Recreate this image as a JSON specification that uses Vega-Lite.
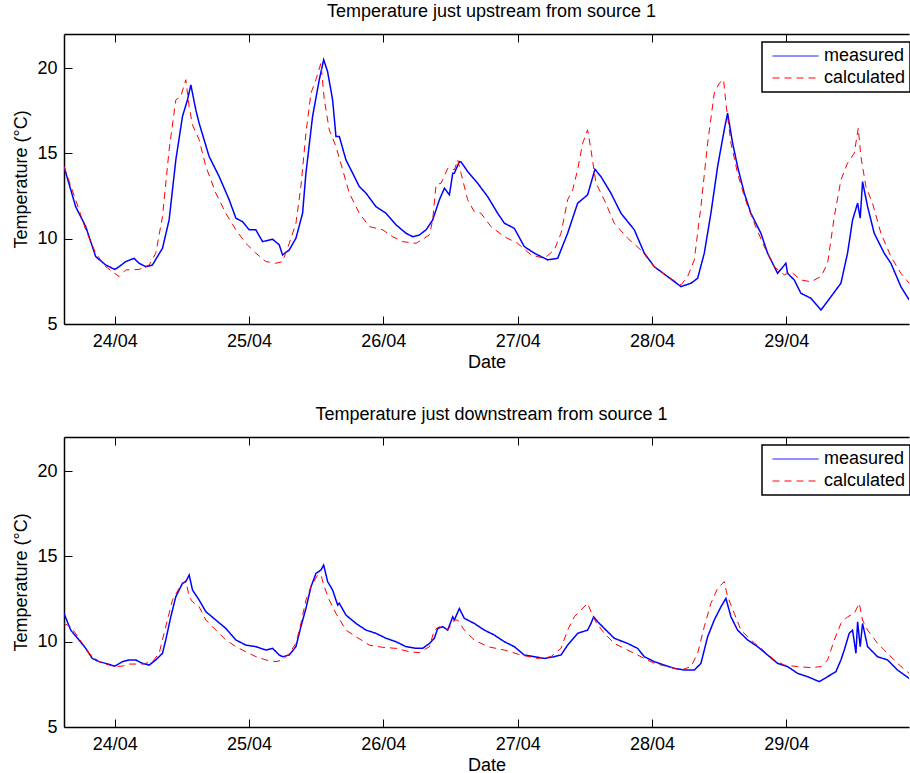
{
  "$schema": "https://vega.github.io/schema/vega-lite/v6.json",
  "background": "white",
  "padding": {"left": 12, "top": 2, "right": 0, "bottom": 0},
  "config": {
    "font": "Liberation Sans",
    "view": {"stroke": null},
    "concat": {"spacing": 34},
    "axis": {"grid": false, "domainColor": "black", "domainWidth": 1.5, "tickColor": "black", "tickWidth": 1, "tickSize": -8,
      "labelFont": "Liberation Sans", "labelFontSize": 18, "labelColor": "black",
      "titleFont": "Liberation Sans", "titleFontSize": 18, "titleFontWeight": "normal", "titleColor": "black"},
    "axisX": {"labelPadding": 16, "titlePadding": 3, "labelFlush": false},
    "axisY": {"labelPadding": 15, "titlePadding": 6, "labelFlush": false},
    "title": {"font": "Liberation Sans", "fontSize": 18, "fontWeight": "normal", "color": "black", "anchor": "middle", "offset": 13, "dx": 5},
    "legend": {"title": null, "orient": "none", "legendX": 698, "legendY": 8, "strokeColor": "black", "strokeWidth": 1.5, "fillColor": "white",
      "padding": 4, "symbolType": "stroke", "symbolSize": 2116, "clipHeight": 20, "symbolOffset": 6, "symbolStrokeWidth": 1,
      "labelOffset": 5, "labelFont": "Liberation Sans", "labelFontSize": 18, "labelColor": "black", "labelLimit": 0, "rowPadding": 2}
  },
  "resolve": {
    "scale": {"color": "independent", "strokeDash": "independent"},
    "legend": {"color": "independent", "strokeDash": "independent"}
  },
  "datasets": {
    "up": [
      {"series":"measured","time":"2012-04-23T14:56","temp":14.23},
      {"series":"measured","time":"2012-04-23T17:01","temp":11.88},
      {"series":"measured","time":"2012-04-23T18:49","temp":10.71},
      {"series":"measured","time":"2012-04-23T20:36","temp":8.95},
      {"series":"measured","time":"2012-04-23T22:23","temp":8.46},
      {"series":"measured","time":"2012-04-24T00:00","temp":8.2},
      {"series":"measured","time":"2012-04-24T00:47","temp":8.36},
      {"series":"measured","time":"2012-04-24T01:58","temp":8.66},
      {"series":"measured","time":"2012-04-24T03:27","temp":8.85},
      {"series":"measured","time":"2012-04-24T04:21","temp":8.56},
      {"series":"measured","time":"2012-04-24T05:33","temp":8.36},
      {"series":"measured","time":"2012-04-24T06:44","temp":8.46},
      {"series":"measured","time":"2012-04-24T08:32","temp":9.44},
      {"series":"measured","time":"2012-04-24T09:43","temp":11.1},
      {"series":"measured","time":"2012-04-24T10:55","temp":14.62},
      {"series":"measured","time":"2012-04-24T12:06","temp":17.16},
      {"series":"measured","time":"2012-04-24T13:00","temp":18.14},
      {"series":"measured","time":"2012-04-24T13:36","temp":19.02},
      {"series":"measured","time":"2012-04-24T14:29","temp":17.56},
      {"series":"measured","time":"2012-04-24T15:05","temp":16.77},
      {"series":"measured","time":"2012-04-24T16:52","temp":14.82},
      {"series":"measured","time":"2012-04-24T18:40","temp":13.64},
      {"series":"measured","time":"2012-04-24T20:27","temp":12.28},
      {"series":"measured","time":"2012-04-24T21:39","temp":11.2},
      {"series":"measured","time":"2012-04-24T22:50","temp":11.0},
      {"series":"measured","time":"2012-04-25T00:02","temp":10.52},
      {"series":"measured","time":"2012-04-25T01:13","temp":10.52},
      {"series":"measured","time":"2012-04-25T02:25","temp":9.83},
      {"series":"measured","time":"2012-04-25T04:12","temp":9.97},
      {"series":"measured","time":"2012-04-25T05:24","temp":9.64},
      {"series":"measured","time":"2012-04-25T05:59","temp":9.05},
      {"series":"measured","time":"2012-04-25T07:11","temp":9.34},
      {"series":"measured","time":"2012-04-25T08:23","temp":10.03},
      {"series":"measured","time":"2012-04-25T09:34","temp":11.49},
      {"series":"measured","time":"2012-04-25T10:10","temp":13.84},
      {"series":"measured","time":"2012-04-25T11:21","temp":17.16},
      {"series":"measured","time":"2012-04-25T12:33","temp":19.32},
      {"series":"measured","time":"2012-04-25T13:20","temp":20.49},
      {"series":"measured","time":"2012-04-25T14:02","temp":19.8},
      {"series":"measured","time":"2012-04-25T14:56","temp":18.14},
      {"series":"measured","time":"2012-04-25T15:32","temp":15.99},
      {"series":"measured","time":"2012-04-25T16:08","temp":15.99},
      {"series":"measured","time":"2012-04-25T17:19","temp":14.62},
      {"series":"measured","time":"2012-04-25T18:31","temp":13.84},
      {"series":"measured","time":"2012-04-25T19:42","temp":13.06},
      {"series":"measured","time":"2012-04-25T20:54","temp":12.67},
      {"series":"measured","time":"2012-04-25T22:41","temp":11.88},
      {"series":"measured","time":"2012-04-26T00:29","temp":11.49},
      {"series":"measured","time":"2012-04-26T02:16","temp":10.81},
      {"series":"measured","time":"2012-04-26T04:03","temp":10.32},
      {"series":"measured","time":"2012-04-26T05:15","temp":10.12},
      {"series":"measured","time":"2012-04-26T06:26","temp":10.22},
      {"series":"measured","time":"2012-04-26T07:38","temp":10.52},
      {"series":"measured","time":"2012-04-26T08:49","temp":11.1},
      {"series":"measured","time":"2012-04-26T10:01","temp":12.28},
      {"series":"measured","time":"2012-04-26T10:55","temp":12.96},
      {"series":"measured","time":"2012-04-26T11:48","temp":12.57},
      {"series":"measured","time":"2012-04-26T12:24","temp":13.84},
      {"series":"measured","time":"2012-04-26T12:41","temp":13.84},
      {"series":"measured","time":"2012-04-26T13:35","temp":14.52},
      {"series":"measured","time":"2012-04-26T13:53","temp":14.5},
      {"series":"measured","time":"2012-04-26T15:04","temp":13.94},
      {"series":"measured","time":"2012-04-26T16:51","temp":13.25},
      {"series":"measured","time":"2012-04-26T18:38","temp":12.47},
      {"series":"measured","time":"2012-04-26T20:26","temp":11.49},
      {"series":"measured","time":"2012-04-26T21:37","temp":10.91},
      {"series":"measured","time":"2012-04-26T23:24","temp":10.61},
      {"series":"measured","time":"2012-04-27T01:11","temp":9.54},
      {"series":"measured","time":"2012-04-27T02:59","temp":9.15},
      {"series":"measured","time":"2012-04-27T05:22","temp":8.76},
      {"series":"measured","time":"2012-04-27T07:09","temp":8.85},
      {"series":"measured","time":"2012-04-27T08:56","temp":10.32},
      {"series":"measured","time":"2012-04-27T10:43","temp":12.08},
      {"series":"measured","time":"2012-04-27T12:30","temp":12.57},
      {"series":"measured","time":"2012-04-27T13:06","temp":13.25},
      {"series":"measured","time":"2012-04-27T13:49","temp":14.07},
      {"series":"measured","time":"2012-04-27T14:53","temp":13.64},
      {"series":"measured","time":"2012-04-27T16:40","temp":12.67},
      {"series":"measured","time":"2012-04-27T18:28","temp":11.49},
      {"series":"measured","time":"2012-04-27T20:51","temp":10.52},
      {"series":"measured","time":"2012-04-27T22:38","temp":9.15},
      {"series":"measured","time":"2012-04-28T00:25","temp":8.36},
      {"series":"measured","time":"2012-04-28T02:48","temp":7.78},
      {"series":"measured","time":"2012-04-28T05:11","temp":7.19},
      {"series":"measured","time":"2012-04-28T06:58","temp":7.39},
      {"series":"measured","time":"2012-04-28T08:10","temp":7.68},
      {"series":"measured","time":"2012-04-28T09:21","temp":9.15},
      {"series":"measured","time":"2012-04-28T10:32","temp":11.49},
      {"series":"measured","time":"2012-04-28T11:44","temp":14.23},
      {"series":"measured","time":"2012-04-28T12:55","temp":16.38},
      {"series":"measured","time":"2012-04-28T13:31","temp":17.36},
      {"series":"measured","time":"2012-04-28T14:25","temp":15.6},
      {"series":"measured","time":"2012-04-28T15:18","temp":14.23},
      {"series":"measured","time":"2012-04-28T16:30","temp":12.67},
      {"series":"measured","time":"2012-04-28T17:41","temp":11.49},
      {"series":"measured","time":"2012-04-28T19:28","temp":10.32},
      {"series":"measured","time":"2012-04-28T20:40","temp":9.15},
      {"series":"measured","time":"2012-04-28T22:27","temp":7.97},
      {"series":"measured","time":"2012-04-28T23:56","temp":8.56},
      {"series":"measured","time":"2012-04-29T00:14","temp":7.97},
      {"series":"measured","time":"2012-04-29T01:26","temp":7.58},
      {"series":"measured","time":"2012-04-29T02:37","temp":6.8},
      {"series":"measured","time":"2012-04-29T04:24","temp":6.51},
      {"series":"measured","time":"2012-04-29T06:12","temp":5.82},
      {"series":"measured","time":"2012-04-29T07:59","temp":6.6},
      {"series":"measured","time":"2012-04-29T09:46","temp":7.39},
      {"series":"measured","time":"2012-04-29T10:57","temp":9.15},
      {"series":"measured","time":"2012-04-29T11:51","temp":11.1},
      {"series":"measured","time":"2012-04-29T12:45","temp":12.08},
      {"series":"measured","time":"2012-04-29T13:13","temp":11.2},
      {"series":"measured","time":"2012-04-29T13:38","temp":13.35},
      {"series":"measured","time":"2012-04-29T14:32","temp":11.88},
      {"series":"measured","time":"2012-04-29T15:43","temp":10.32},
      {"series":"measured","time":"2012-04-29T17:30","temp":9.15},
      {"series":"measured","time":"2012-04-29T18:42","temp":8.56},
      {"series":"measured","time":"2012-04-29T20:29","temp":7.19},
      {"series":"measured","time":"2012-04-29T21:58","temp":6.41},
      {"series":"calculated","time":"2012-04-23T14:56","temp":14.23},
      {"series":"calculated","time":"2012-04-23T17:01","temp":12.28},
      {"series":"calculated","time":"2012-04-23T18:49","temp":10.52},
      {"series":"calculated","time":"2012-04-23T20:36","temp":9.15},
      {"series":"calculated","time":"2012-04-23T22:23","temp":8.36},
      {"series":"calculated","time":"2012-04-24T00:47","temp":7.78},
      {"series":"calculated","time":"2012-04-24T01:58","temp":8.17},
      {"series":"calculated","time":"2012-04-24T04:21","temp":8.2},
      {"series":"calculated","time":"2012-04-24T06:09","temp":8.46},
      {"series":"calculated","time":"2012-04-24T07:20","temp":9.15},
      {"series":"calculated","time":"2012-04-24T08:32","temp":11.3},
      {"series":"calculated","time":"2012-04-24T09:43","temp":15.21},
      {"series":"calculated","time":"2012-04-24T10:55","temp":18.14},
      {"series":"calculated","time":"2012-04-24T11:48","temp":18.34},
      {"series":"calculated","time":"2012-04-24T12:42","temp":19.32},
      {"series":"calculated","time":"2012-04-24T13:18","temp":17.75},
      {"series":"calculated","time":"2012-04-24T13:53","temp":16.68},
      {"series":"calculated","time":"2012-04-24T15:05","temp":15.8},
      {"series":"calculated","time":"2012-04-24T16:17","temp":14.23},
      {"series":"calculated","time":"2012-04-24T18:04","temp":12.67},
      {"series":"calculated","time":"2012-04-24T19:51","temp":11.49},
      {"series":"calculated","time":"2012-04-24T21:39","temp":10.52},
      {"series":"calculated","time":"2012-04-24T23:26","temp":9.73},
      {"series":"calculated","time":"2012-04-25T01:13","temp":9.15},
      {"series":"calculated","time":"2012-04-25T03:01","temp":8.66},
      {"series":"calculated","time":"2012-04-25T04:48","temp":8.56},
      {"series":"calculated","time":"2012-04-25T05:59","temp":8.66},
      {"series":"calculated","time":"2012-04-25T07:11","temp":9.73},
      {"series":"calculated","time":"2012-04-25T08:23","temp":10.91},
      {"series":"calculated","time":"2012-04-25T09:16","temp":13.06},
      {"series":"calculated","time":"2012-04-25T10:10","temp":16.19},
      {"series":"calculated","time":"2012-04-25T11:04","temp":18.53},
      {"series":"calculated","time":"2012-04-25T11:57","temp":19.32},
      {"series":"calculated","time":"2012-04-25T12:51","temp":20.29},
      {"series":"calculated","time":"2012-04-25T13:27","temp":18.14},
      {"series":"calculated","time":"2012-04-25T14:20","temp":16.38},
      {"series":"calculated","time":"2012-04-25T15:32","temp":15.4},
      {"series":"calculated","time":"2012-04-25T16:44","temp":14.04},
      {"series":"calculated","time":"2012-04-25T17:55","temp":12.67},
      {"series":"calculated","time":"2012-04-25T19:42","temp":11.49},
      {"series":"calculated","time":"2012-04-25T21:30","temp":10.71},
      {"series":"calculated","time":"2012-04-25T23:53","temp":10.52},
      {"series":"calculated","time":"2012-04-26T01:40","temp":10.12},
      {"series":"calculated","time":"2012-04-26T03:27","temp":9.83},
      {"series":"calculated","time":"2012-04-26T05:51","temp":9.73},
      {"series":"calculated","time":"2012-04-26T08:14","temp":10.22},
      {"series":"calculated","time":"2012-04-26T08:49","temp":11.1},
      {"series":"calculated","time":"2012-04-26T09:25","temp":13.16},
      {"series":"calculated","time":"2012-04-26T10:19","temp":13.25},
      {"series":"calculated","time":"2012-04-26T11:31","temp":14.13},
      {"series":"calculated","time":"2012-04-26T12:42","temp":14.04},
      {"series":"calculated","time":"2012-04-26T13:17","temp":14.62},
      {"series":"calculated","time":"2012-04-26T13:53","temp":13.84},
      {"series":"calculated","time":"2012-04-26T15:04","temp":12.28},
      {"series":"calculated","time":"2012-04-26T16:15","temp":11.59},
      {"series":"calculated","time":"2012-04-26T17:27","temp":11.49},
      {"series":"calculated","time":"2012-04-26T19:14","temp":10.71},
      {"series":"calculated","time":"2012-04-26T21:37","temp":10.12},
      {"series":"calculated","time":"2012-04-27T00:00","temp":9.73},
      {"series":"calculated","time":"2012-04-27T02:23","temp":9.05},
      {"series":"calculated","time":"2012-04-27T04:46","temp":8.85},
      {"series":"calculated","time":"2012-04-27T06:33","temp":9.34},
      {"series":"calculated","time":"2012-04-27T07:45","temp":10.32},
      {"series":"calculated","time":"2012-04-27T08:56","temp":12.28},
      {"series":"calculated","time":"2012-04-27T09:50","temp":12.86},
      {"series":"calculated","time":"2012-04-27T10:43","temp":14.04},
      {"series":"calculated","time":"2012-04-27T11:37","temp":15.6},
      {"series":"calculated","time":"2012-04-27T12:30","temp":16.38},
      {"series":"calculated","time":"2012-04-27T13:06","temp":15.21},
      {"series":"calculated","time":"2012-04-27T14:00","temp":13.25},
      {"series":"calculated","time":"2012-04-27T15:29","temp":12.28},
      {"series":"calculated","time":"2012-04-27T17:16","temp":10.91},
      {"series":"calculated","time":"2012-04-27T19:39","temp":10.03},
      {"series":"calculated","time":"2012-04-27T22:02","temp":9.34},
      {"series":"calculated","time":"2012-04-28T00:25","temp":8.36},
      {"series":"calculated","time":"2012-04-28T02:48","temp":7.78},
      {"series":"calculated","time":"2012-04-28T05:11","temp":7.29},
      {"series":"calculated","time":"2012-04-28T06:22","temp":7.78},
      {"series":"calculated","time":"2012-04-28T07:34","temp":8.76},
      {"series":"calculated","time":"2012-04-28T08:45","temp":11.88},
      {"series":"calculated","time":"2012-04-28T09:57","temp":15.6},
      {"series":"calculated","time":"2012-04-28T11:08","temp":18.53},
      {"series":"calculated","time":"2012-04-28T12:02","temp":19.12},
      {"series":"calculated","time":"2012-04-28T12:48","temp":19.32},
      {"series":"calculated","time":"2012-04-28T13:13","temp":17.95},
      {"series":"calculated","time":"2012-04-28T14:07","temp":15.6},
      {"series":"calculated","time":"2012-04-28T15:18","temp":13.84},
      {"series":"calculated","time":"2012-04-28T16:30","temp":12.47},
      {"series":"calculated","time":"2012-04-28T18:17","temp":10.91},
      {"series":"calculated","time":"2012-04-28T20:04","temp":9.54},
      {"series":"calculated","time":"2012-04-28T21:51","temp":8.36},
      {"series":"calculated","time":"2012-04-28T23:39","temp":7.88},
      {"series":"calculated","time":"2012-04-29T00:50","temp":8.07},
      {"series":"calculated","time":"2012-04-29T02:37","temp":7.58},
      {"series":"calculated","time":"2012-04-29T04:24","temp":7.48},
      {"series":"calculated","time":"2012-04-29T06:12","temp":7.78},
      {"series":"calculated","time":"2012-04-29T07:23","temp":8.56},
      {"series":"calculated","time":"2012-04-29T08:35","temp":11.3},
      {"series":"calculated","time":"2012-04-29T09:46","temp":13.45},
      {"series":"calculated","time":"2012-04-29T10:57","temp":14.43},
      {"series":"calculated","time":"2012-04-29T12:09","temp":15.01},
      {"series":"calculated","time":"2012-04-29T12:52","temp":16.48},
      {"series":"calculated","time":"2012-04-29T13:20","temp":14.82},
      {"series":"calculated","time":"2012-04-29T14:14","temp":13.06},
      {"series":"calculated","time":"2012-04-29T15:25","temp":12.08},
      {"series":"calculated","time":"2012-04-29T16:55","temp":10.32},
      {"series":"calculated","time":"2012-04-29T18:42","temp":8.95},
      {"series":"calculated","time":"2012-04-29T20:29","temp":7.97},
      {"series":"calculated","time":"2012-04-29T21:58","temp":7.39}
    ],
    "down": [
      {"series":"measured","time":"2012-04-23T14:56","temp":11.66},
      {"series":"measured","time":"2012-04-23T16:08","temp":10.68},
      {"series":"measured","time":"2012-04-23T17:37","temp":10.1},
      {"series":"measured","time":"2012-04-23T18:49","temp":9.61},
      {"series":"measured","time":"2012-04-23T20:00","temp":9.02},
      {"series":"measured","time":"2012-04-23T21:12","temp":8.83},
      {"series":"measured","time":"2012-04-23T22:23","temp":8.73},
      {"series":"measured","time":"2012-04-24T00:00","temp":8.57},
      {"series":"measured","time":"2012-04-24T01:22","temp":8.83},
      {"series":"measured","time":"2012-04-24T02:34","temp":8.93},
      {"series":"measured","time":"2012-04-24T03:45","temp":8.93},
      {"series":"measured","time":"2012-04-24T04:57","temp":8.73},
      {"series":"measured","time":"2012-04-24T06:09","temp":8.63},
      {"series":"measured","time":"2012-04-24T07:20","temp":8.93},
      {"series":"measured","time":"2012-04-24T08:32","temp":9.32},
      {"series":"measured","time":"2012-04-24T09:07","temp":10.1},
      {"series":"measured","time":"2012-04-24T10:01","temp":11.46},
      {"series":"measured","time":"2012-04-24T10:55","temp":12.64},
      {"series":"measured","time":"2012-04-24T12:06","temp":13.42},
      {"series":"measured","time":"2012-04-24T12:42","temp":13.52},
      {"series":"measured","time":"2012-04-24T13:18","temp":13.91},
      {"series":"measured","time":"2012-04-24T13:54","temp":13.03},
      {"series":"measured","time":"2012-04-24T15:05","temp":12.44},
      {"series":"measured","time":"2012-04-24T16:17","temp":11.76},
      {"series":"measured","time":"2012-04-24T18:04","temp":11.27},
      {"series":"measured","time":"2012-04-24T19:51","temp":10.78},
      {"series":"measured","time":"2012-04-24T21:39","temp":10.1},
      {"series":"measured","time":"2012-04-24T23:26","temp":9.8},
      {"series":"measured","time":"2012-04-25T01:13","temp":9.71},
      {"series":"measured","time":"2012-04-25T03:01","temp":9.51},
      {"series":"measured","time":"2012-04-25T04:12","temp":9.61},
      {"series":"measured","time":"2012-04-25T05:24","temp":9.22},
      {"series":"measured","time":"2012-04-25T06:00","temp":9.12},
      {"series":"measured","time":"2012-04-25T07:11","temp":9.22},
      {"series":"measured","time":"2012-04-25T08:23","temp":9.71},
      {"series":"measured","time":"2012-04-25T09:16","temp":10.88},
      {"series":"measured","time":"2012-04-25T10:10","temp":11.95},
      {"series":"measured","time":"2012-04-25T11:04","temp":13.22},
      {"series":"measured","time":"2012-04-25T11:57","temp":14.0},
      {"series":"measured","time":"2012-04-25T12:51","temp":14.2},
      {"series":"measured","time":"2012-04-25T13:20","temp":14.49},
      {"series":"measured","time":"2012-04-25T14:03","temp":13.52},
      {"series":"measured","time":"2012-04-25T14:56","temp":13.03},
      {"series":"measured","time":"2012-04-25T15:50","temp":12.15},
      {"series":"measured","time":"2012-04-25T16:08","temp":12.25},
      {"series":"measured","time":"2012-04-25T17:19","temp":11.56},
      {"series":"measured","time":"2012-04-25T19:07","temp":11.07},
      {"series":"measured","time":"2012-04-25T20:54","temp":10.68},
      {"series":"measured","time":"2012-04-25T22:41","temp":10.49},
      {"series":"measured","time":"2012-04-26T00:29","temp":10.2},
      {"series":"measured","time":"2012-04-26T02:16","temp":10.0},
      {"series":"measured","time":"2012-04-26T04:03","temp":9.71},
      {"series":"measured","time":"2012-04-26T05:51","temp":9.61},
      {"series":"measured","time":"2012-04-26T07:02","temp":9.61},
      {"series":"measured","time":"2012-04-26T08:14","temp":9.9},
      {"series":"measured","time":"2012-04-26T09:07","temp":10.2},
      {"series":"measured","time":"2012-04-26T09:43","temp":10.78},
      {"series":"measured","time":"2012-04-26T10:37","temp":10.88},
      {"series":"measured","time":"2012-04-26T11:30","temp":10.68},
      {"series":"measured","time":"2012-04-26T12:24","temp":11.46},
      {"series":"measured","time":"2012-04-26T12:41","temp":11.27},
      {"series":"measured","time":"2012-04-26T13:35","temp":11.95},
      {"series":"measured","time":"2012-04-26T14:28","temp":11.37},
      {"series":"measured","time":"2012-04-26T16:15","temp":11.07},
      {"series":"measured","time":"2012-04-26T18:03","temp":10.68},
      {"series":"measured","time":"2012-04-26T19:50","temp":10.39},
      {"series":"measured","time":"2012-04-26T21:37","temp":10.0},
      {"series":"measured","time":"2012-04-26T23:24","temp":9.71},
      {"series":"measured","time":"2012-04-27T01:11","temp":9.22},
      {"series":"measured","time":"2012-04-27T02:59","temp":9.12},
      {"series":"measured","time":"2012-04-27T04:46","temp":9.02},
      {"series":"measured","time":"2012-04-27T06:33","temp":9.12},
      {"series":"measured","time":"2012-04-27T07:45","temp":9.22},
      {"series":"measured","time":"2012-04-27T08:56","temp":9.8},
      {"series":"measured","time":"2012-04-27T10:43","temp":10.49},
      {"series":"measured","time":"2012-04-27T12:30","temp":10.68},
      {"series":"measured","time":"2012-04-27T13:06","temp":11.07},
      {"series":"measured","time":"2012-04-27T13:35","temp":11.46},
      {"series":"measured","time":"2012-04-27T14:18","temp":11.17},
      {"series":"measured","time":"2012-04-27T15:29","temp":10.78},
      {"series":"measured","time":"2012-04-27T17:16","temp":10.2},
      {"series":"measured","time":"2012-04-27T19:39","temp":9.9},
      {"series":"measured","time":"2012-04-27T21:26","temp":9.61},
      {"series":"measured","time":"2012-04-27T22:38","temp":9.12},
      {"series":"measured","time":"2012-04-28T00:25","temp":8.83},
      {"series":"measured","time":"2012-04-28T02:12","temp":8.63},
      {"series":"measured","time":"2012-04-28T03:59","temp":8.44},
      {"series":"measured","time":"2012-04-28T05:47","temp":8.34},
      {"series":"measured","time":"2012-04-28T07:34","temp":8.34},
      {"series":"measured","time":"2012-04-28T08:45","temp":8.73},
      {"series":"measured","time":"2012-04-28T09:57","temp":10.29},
      {"series":"measured","time":"2012-04-28T11:08","temp":11.27},
      {"series":"measured","time":"2012-04-28T12:20","temp":12.05},
      {"series":"measured","time":"2012-04-28T13:13","temp":12.54},
      {"series":"measured","time":"2012-04-28T14:07","temp":11.46},
      {"series":"measured","time":"2012-04-28T15:18","temp":10.68},
      {"series":"measured","time":"2012-04-28T17:06","temp":10.1},
      {"series":"measured","time":"2012-04-28T18:53","temp":9.71},
      {"series":"measured","time":"2012-04-28T20:40","temp":9.22},
      {"series":"measured","time":"2012-04-28T22:27","temp":8.73},
      {"series":"measured","time":"2012-04-29T00:14","temp":8.54},
      {"series":"measured","time":"2012-04-29T02:02","temp":8.14},
      {"series":"measured","time":"2012-04-29T03:49","temp":7.95},
      {"series":"measured","time":"2012-04-29T05:54","temp":7.66},
      {"series":"measured","time":"2012-04-29T07:23","temp":7.95},
      {"series":"measured","time":"2012-04-29T08:52","temp":8.24},
      {"series":"measured","time":"2012-04-29T09:46","temp":8.93},
      {"series":"measured","time":"2012-04-29T10:22","temp":9.51},
      {"series":"measured","time":"2012-04-29T11:15","temp":10.49},
      {"series":"measured","time":"2012-04-29T11:51","temp":10.68},
      {"series":"measured","time":"2012-04-29T12:27","temp":9.32},
      {"series":"measured","time":"2012-04-29T12:45","temp":11.17},
      {"series":"measured","time":"2012-04-29T13:13","temp":9.71},
      {"series":"measured","time":"2012-04-29T13:38","temp":11.07},
      {"series":"measured","time":"2012-04-29T14:32","temp":9.71},
      {"series":"measured","time":"2012-04-29T16:19","temp":9.12},
      {"series":"measured","time":"2012-04-29T18:06","temp":8.93},
      {"series":"measured","time":"2012-04-29T19:53","temp":8.34},
      {"series":"measured","time":"2012-04-29T21:58","temp":7.85},
      {"series":"calculated","time":"2012-04-23T14:56","temp":11.07},
      {"series":"calculated","time":"2012-04-23T16:08","temp":10.88},
      {"series":"calculated","time":"2012-04-23T17:37","temp":10.2},
      {"series":"calculated","time":"2012-04-23T19:25","temp":9.32},
      {"series":"calculated","time":"2012-04-23T21:12","temp":8.83},
      {"series":"calculated","time":"2012-04-23T22:59","temp":8.63},
      {"series":"calculated","time":"2012-04-24T00:00","temp":8.54},
      {"series":"calculated","time":"2012-04-24T01:22","temp":8.57},
      {"series":"calculated","time":"2012-04-24T02:34","temp":8.69},
      {"series":"calculated","time":"2012-04-24T04:57","temp":8.69},
      {"series":"calculated","time":"2012-04-24T06:44","temp":8.83},
      {"series":"calculated","time":"2012-04-24T07:56","temp":9.32},
      {"series":"calculated","time":"2012-04-24T09:07","temp":10.88},
      {"series":"calculated","time":"2012-04-24T10:19","temp":12.44},
      {"series":"calculated","time":"2012-04-24T11:30","temp":13.13},
      {"series":"calculated","time":"2012-04-24T12:42","temp":13.61},
      {"series":"calculated","time":"2012-04-24T13:18","temp":12.64},
      {"series":"calculated","time":"2012-04-24T13:54","temp":12.34},
      {"series":"calculated","time":"2012-04-24T15:05","temp":12.05},
      {"series":"calculated","time":"2012-04-24T16:17","temp":11.27},
      {"series":"calculated","time":"2012-04-24T18:04","temp":10.68},
      {"series":"calculated","time":"2012-04-24T19:51","temp":10.1},
      {"series":"calculated","time":"2012-04-24T21:39","temp":9.71},
      {"series":"calculated","time":"2012-04-24T23:26","temp":9.41},
      {"series":"calculated","time":"2012-04-25T01:13","temp":9.12},
      {"series":"calculated","time":"2012-04-25T03:01","temp":8.93},
      {"series":"calculated","time":"2012-04-25T04:48","temp":8.83},
      {"series":"calculated","time":"2012-04-25T06:00","temp":8.93},
      {"series":"calculated","time":"2012-04-25T07:11","temp":9.32},
      {"series":"calculated","time":"2012-04-25T08:23","temp":9.9},
      {"series":"calculated","time":"2012-04-25T09:16","temp":11.07},
      {"series":"calculated","time":"2012-04-25T10:10","temp":12.44},
      {"series":"calculated","time":"2012-04-25T11:04","temp":13.22},
      {"series":"calculated","time":"2012-04-25T12:15","temp":13.91},
      {"series":"calculated","time":"2012-04-25T12:51","temp":13.91},
      {"series":"calculated","time":"2012-04-25T13:27","temp":13.22},
      {"series":"calculated","time":"2012-04-25T14:20","temp":12.44},
      {"series":"calculated","time":"2012-04-25T15:32","temp":11.66},
      {"series":"calculated","time":"2012-04-25T17:19","temp":10.68},
      {"series":"calculated","time":"2012-04-25T19:07","temp":10.29},
      {"series":"calculated","time":"2012-04-25T21:30","temp":9.8},
      {"series":"calculated","time":"2012-04-25T23:53","temp":9.67},
      {"series":"calculated","time":"2012-04-26T02:16","temp":9.61},
      {"series":"calculated","time":"2012-04-26T04:39","temp":9.41},
      {"series":"calculated","time":"2012-04-26T06:26","temp":9.36},
      {"series":"calculated","time":"2012-04-26T08:14","temp":9.71},
      {"series":"calculated","time":"2012-04-26T09:07","temp":10.68},
      {"series":"calculated","time":"2012-04-26T10:01","temp":10.88},
      {"series":"calculated","time":"2012-04-26T11:30","temp":10.68},
      {"series":"calculated","time":"2012-04-26T12:42","temp":11.27},
      {"series":"calculated","time":"2012-04-26T13:17","temp":11.27},
      {"series":"calculated","time":"2012-04-26T14:28","temp":10.68},
      {"series":"calculated","time":"2012-04-26T16:15","temp":10.1},
      {"series":"calculated","time":"2012-04-26T18:38","temp":9.71},
      {"series":"calculated","time":"2012-04-26T21:37","temp":9.51},
      {"series":"calculated","time":"2012-04-27T00:36","temp":9.22},
      {"series":"calculated","time":"2012-04-27T03:34","temp":9.02},
      {"series":"calculated","time":"2012-04-27T05:57","temp":9.12},
      {"series":"calculated","time":"2012-04-27T07:45","temp":9.61},
      {"series":"calculated","time":"2012-04-27T08:56","temp":10.68},
      {"series":"calculated","time":"2012-04-27T10:07","temp":11.46},
      {"series":"calculated","time":"2012-04-27T11:19","temp":11.86},
      {"series":"calculated","time":"2012-04-27T12:30","temp":12.25},
      {"series":"calculated","time":"2012-04-27T13:06","temp":11.76},
      {"series":"calculated","time":"2012-04-27T14:00","temp":11.15},
      {"series":"calculated","time":"2012-04-27T15:29","temp":10.49},
      {"series":"calculated","time":"2012-04-27T17:16","temp":9.9},
      {"series":"calculated","time":"2012-04-27T19:39","temp":9.51},
      {"series":"calculated","time":"2012-04-27T22:02","temp":9.12},
      {"series":"calculated","time":"2012-04-28T00:25","temp":8.73},
      {"series":"calculated","time":"2012-04-28T02:48","temp":8.54},
      {"series":"calculated","time":"2012-04-28T05:11","temp":8.34},
      {"series":"calculated","time":"2012-04-28T06:58","temp":8.54},
      {"series":"calculated","time":"2012-04-28T08:10","temp":9.32},
      {"series":"calculated","time":"2012-04-28T09:21","temp":10.88},
      {"series":"calculated","time":"2012-04-28T10:32","temp":12.25},
      {"series":"calculated","time":"2012-04-28T11:44","temp":13.13},
      {"series":"calculated","time":"2012-04-28T12:55","temp":13.52},
      {"series":"calculated","time":"2012-04-28T13:31","temp":12.64},
      {"series":"calculated","time":"2012-04-28T14:43","temp":11.66},
      {"series":"calculated","time":"2012-04-28T15:54","temp":10.68},
      {"series":"calculated","time":"2012-04-28T17:41","temp":10.1},
      {"series":"calculated","time":"2012-04-28T19:28","temp":9.61},
      {"series":"calculated","time":"2012-04-28T21:51","temp":8.93},
      {"series":"calculated","time":"2012-04-28T23:39","temp":8.63},
      {"series":"calculated","time":"2012-04-29T02:02","temp":8.54},
      {"series":"calculated","time":"2012-04-29T04:24","temp":8.48},
      {"series":"calculated","time":"2012-04-29T06:12","temp":8.54},
      {"series":"calculated","time":"2012-04-29T07:23","temp":8.93},
      {"series":"calculated","time":"2012-04-29T08:35","temp":10.1},
      {"series":"calculated","time":"2012-04-29T09:46","temp":11.07},
      {"series":"calculated","time":"2012-04-29T10:57","temp":11.46},
      {"series":"calculated","time":"2012-04-29T12:09","temp":11.66},
      {"series":"calculated","time":"2012-04-29T13:03","temp":12.25},
      {"series":"calculated","time":"2012-04-29T13:38","temp":11.27},
      {"series":"calculated","time":"2012-04-29T14:32","temp":10.68},
      {"series":"calculated","time":"2012-04-29T16:19","temp":9.9},
      {"series":"calculated","time":"2012-04-29T18:06","temp":9.32},
      {"series":"calculated","time":"2012-04-29T19:53","temp":8.73},
      {"series":"calculated","time":"2012-04-29T21:58","temp":8.14}
    ]
  },
  "vconcat": [
    {
      "title": {"text": "Temperature just upstream from source 1"},
      "width": 845,
      "height": 290,
      "data": {"name": "up"},
      "layer": [
        {
          "transform": [{"filter": "datum.series === 'measured'"}],
          "mark": {"type": "line", "strokeWidth": 1.5, "clip": true},
          "encoding": {
            "x": {"field": "time", "type": "temporal",
              "scale": {"domain": [{"year": 2012, "month": 4, "date": 23, "hours": 14, "minutes": 56}, {"year": 2012, "month": 4, "date": 29, "hours": 21, "minutes": 56}]},
              "axis": {"orient": "bottom", "title": "Date", "format": "%d/%m", "formatType": "time",
                "values": [{"year": 2012, "month": 4, "date": 24}, {"year": 2012, "month": 4, "date": 25}, {"year": 2012, "month": 4, "date": 26}, {"year": 2012, "month": 4, "date": 27}, {"year": 2012, "month": 4, "date": 28}, {"year": 2012, "month": 4, "date": 29}]}},
            "y": {"field": "temp", "type": "quantitative", "scale": {"domain": [5, 22], "nice": false, "zero": false},
              "axis": {"title": "Temperature (°C)", "values": [5, 10, 15, 20]}},
            "color": {"field": "series", "type": "nominal", "scale": {"domain": ["measured", "calculated"], "range": ["#0000ff", "#ff0000"]}},
            "strokeDash": {"field": "series", "type": "nominal", "scale": {"domain": ["measured", "calculated"], "range": [[1, 0], [7, 5]]}}
          }
        },
        {
          "transform": [{"filter": "datum.series === 'calculated'"}],
          "mark": {"type": "line", "strokeWidth": 1, "clip": true},
          "encoding": {
            "x": {"field": "time", "type": "temporal",
              "scale": {"domain": [{"year": 2012, "month": 4, "date": 23, "hours": 14, "minutes": 56}, {"year": 2012, "month": 4, "date": 29, "hours": 21, "minutes": 56}]},
              "axis": {"orient": "top", "title": null, "labels": false,
                "values": [{"year": 2012, "month": 4, "date": 24}, {"year": 2012, "month": 4, "date": 25}, {"year": 2012, "month": 4, "date": 26}, {"year": 2012, "month": 4, "date": 27}, {"year": 2012, "month": 4, "date": 28}, {"year": 2012, "month": 4, "date": 29}]}},
            "y": {"field": "temp", "type": "quantitative", "scale": {"domain": [5, 22], "nice": false, "zero": false}},
            "color": {"field": "series", "type": "nominal", "scale": {"domain": ["measured", "calculated"], "range": ["#0000ff", "#ff0000"]}},
            "strokeDash": {"field": "series", "type": "nominal", "scale": {"domain": ["measured", "calculated"], "range": [[1, 0], [7, 5]]}}
          }
        }
      ]
    },
    {
      "title": {"text": "Temperature just downstream from source 1"},
      "width": 845,
      "height": 290,
      "data": {"name": "down"},
      "layer": [
        {
          "transform": [{"filter": "datum.series === 'measured'"}],
          "mark": {"type": "line", "strokeWidth": 1.5, "clip": true},
          "encoding": {
            "x": {"field": "time", "type": "temporal",
              "scale": {"domain": [{"year": 2012, "month": 4, "date": 23, "hours": 14, "minutes": 56}, {"year": 2012, "month": 4, "date": 29, "hours": 21, "minutes": 56}]},
              "axis": {"orient": "bottom", "title": "Date", "format": "%d/%m", "formatType": "time",
                "values": [{"year": 2012, "month": 4, "date": 24}, {"year": 2012, "month": 4, "date": 25}, {"year": 2012, "month": 4, "date": 26}, {"year": 2012, "month": 4, "date": 27}, {"year": 2012, "month": 4, "date": 28}, {"year": 2012, "month": 4, "date": 29}]}},
            "y": {"field": "temp", "type": "quantitative", "scale": {"domain": [5, 22], "nice": false, "zero": false},
              "axis": {"title": "Temperature (°C)", "values": [5, 10, 15, 20]}},
            "color": {"field": "series", "type": "nominal", "scale": {"domain": ["measured", "calculated"], "range": ["#0000ff", "#ff0000"]}},
            "strokeDash": {"field": "series", "type": "nominal", "scale": {"domain": ["measured", "calculated"], "range": [[1, 0], [7, 5]]}}
          }
        },
        {
          "transform": [{"filter": "datum.series === 'calculated'"}],
          "mark": {"type": "line", "strokeWidth": 1, "clip": true},
          "encoding": {
            "x": {"field": "time", "type": "temporal",
              "scale": {"domain": [{"year": 2012, "month": 4, "date": 23, "hours": 14, "minutes": 56}, {"year": 2012, "month": 4, "date": 29, "hours": 21, "minutes": 56}]},
              "axis": {"orient": "top", "title": null, "labels": false,
                "values": [{"year": 2012, "month": 4, "date": 24}, {"year": 2012, "month": 4, "date": 25}, {"year": 2012, "month": 4, "date": 26}, {"year": 2012, "month": 4, "date": 27}, {"year": 2012, "month": 4, "date": 28}, {"year": 2012, "month": 4, "date": 29}]}},
            "y": {"field": "temp", "type": "quantitative", "scale": {"domain": [5, 22], "nice": false, "zero": false}},
            "color": {"field": "series", "type": "nominal", "scale": {"domain": ["measured", "calculated"], "range": ["#0000ff", "#ff0000"]}},
            "strokeDash": {"field": "series", "type": "nominal", "scale": {"domain": ["measured", "calculated"], "range": [[1, 0], [7, 5]]}}
          }
        }
      ]
    }
  ]
}
